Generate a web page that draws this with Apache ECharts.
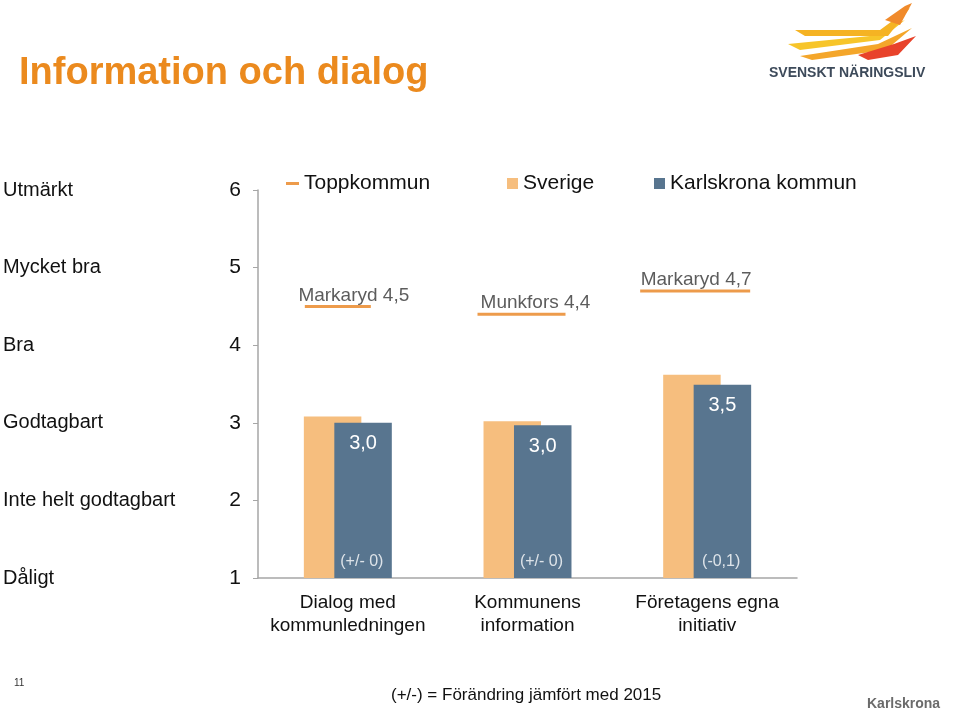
<!DOCTYPE html>
<html><head><meta charset="utf-8">
<script src="https://cdn.jsdelivr.net/npm/echarts@6/dist/echarts.min.js"></script>
<style>html,body{margin:0;padding:0;background:#fff}#c{width:960px;height:710px}</style>
</head><body><div id="c"></div>
<script>
const categories = ['Dialog med\nkommunledningen', 'Kommunens\ninformation', 'Företagens egna\ninitiativ'];
const sverige = [3.08, 3.02, 3.62];
const karlskrona = [3.0, 2.97, 3.49];
const changes = ['(+/- 0)', '(+/- 0)', '(-0,1)'];
const toppkommun = [4.5, 4.4, 4.7];
const toppNames = ['Markaryd', 'Munkfors', 'Markaryd'];
const levelNames = {1:'Dåligt',2:'Inte helt godtagbart',3:'Godtagbart',4:'Bra',5:'Mycket bra',6:'Utmärkt'};
const baseline = [1, 1, 1];

const fmt = v => v.toFixed(1).replace('.', ',');
const lineWidths = [66, 88, 110];
const lineShift = [-10, -6, -12];
const labelShift = [16, 14, 1];
const FONT = 'Liberation Sans, Arial, sans-serif';

const chart = echarts.init(document.getElementById('c'));
chart.setOption({
  animation: false,
  textStyle: {fontFamily: FONT},
  title: {
    text: 'Information och dialog', left: 14, top: 50,
    textStyle: {color: '#EB8A1E', fontSize: 38, fontWeight: 'bold', fontFamily: FONT}
  },
  legend: [
    {data: ['Toppkommun'], left: 281, top: 168, icon: 'rect', itemWidth: 13, itemHeight: 3, itemGap: 6,
     textStyle: {fontSize: 21, color: '#111'}},
    {data: ['Sverige'], left: 502, top: 168, icon: 'rect', itemWidth: 11, itemHeight: 11, itemGap: 5,
     textStyle: {fontSize: 21, color: '#111'}},
    {data: ['Karlskrona kommun'], left: 649, top: 168, icon: 'rect', itemWidth: 11, itemHeight: 11, itemGap: 5,
     textStyle: {fontSize: 21, color: '#111'}}
  ],
  grid: {left: 255, right: 163, top: 190, bottom: 132},
  xAxis: {
    type: 'category', data: categories,
    axisLine: {lineStyle: {color: '#a6a6a6', width: 1.5}},
    axisTick: {show: false},
    axisLabel: {interval: 0, fontSize: 19, color: '#111', lineHeight: 23, margin: 13}
  },
  yAxis: [
    {type: 'value', min: 1, max: 6, interval: 1, position: 'left',
     axisLine: {show: true, lineStyle: {color: '#a6a6a6', width: 1.5}},
     axisTick: {show: true, length: 5, lineStyle: {color: '#a6a6a6'}},
     splitLine: {show: false},
     axisLabel: {fontSize: 21, color: '#111', margin: 17}},
    {type: 'value', min: 1, max: 6, interval: 1, position: 'left', offset: 255,
     axisLine: {show: false}, axisTick: {show: false}, splitLine: {show: false},
     axisLabel: {fontSize: 20, color: '#111', margin: 0, align: 'left',
       formatter: v => levelNames[v] || ''}}
  ],
  series: [
    {name: 'Sverige', type: 'bar', data: sverige, barWidth: '32%', barGap: '-47%',
     itemStyle: {color: '#F6BE7E'}, z: 2},
    {name: 'Karlskrona kommun', type: 'bar', data: karlskrona, barWidth: '32%',
     itemStyle: {color: '#58758F'}, z: 3,
     label: {show: true, position: 'insideTop', distance: 11, color: '#fff', fontSize: 20,
       formatter: p => fmt(p.value)}},
    {name: 'changes', type: 'scatter', data: baseline, symbol: 'circle', symbolSize: 1, z: 5,
     itemStyle: {color: 'rgba(0,0,0,0)'}, silent: true,
     label: {show: true, position: 'top', distance: 0, offset: [14, -8], color: '#fff', fontSize: 16,
       formatter: p => changes[p.dataIndex]}},
    {name: 'Toppkommun', type: 'scatter', symbol: 'rect', z: 6,
     itemStyle: {color: '#E8821E'},
     data: toppkommun.map((v, i) => ({value: v, symbolSize: [lineWidths[i], 3], symbolOffset: [lineShift[i], 0],
       label: {offset: [labelShift[i], 0]}})),
     label: {show: true, position: 'top', distance: 0, color: '#333', fontSize: 19,
       formatter: p => toppNames[p.dataIndex] + ' ' + fmt(p.value)}}
  ],
  graphic: [
    {type: 'text', left: 14, top: 678, style: {text: '11', fontSize: 10, fill: '#333', fontFamily: FONT}},
    {type: 'text', left: 391, top: 687, style: {text: '(+/-) = Förändring jämfört med 2015', fontSize: 17, fill: '#111', fontFamily: FONT}},
    {type: 'text', left: 867, top: 697, style: {text: 'Karlskrona', fontSize: 14, fontWeight: 'bold', fill: '#6b6b6b', fontFamily: FONT}},
    {type: 'text', left: 769, top: 66, style: {text: 'SVENSKT NÄRINGSLIV', fontSize: 14, fontWeight: 'bold', fill: '#3d4a5a', fontFamily: 'Liberation Sans Narrow, Liberation Sans, sans-serif'}},
    {type: 'group', children: [
      {type: 'polygon', shape: {points: [[788,44],[870,36],[905,20],[880,40],[800,50]]}, style: {fill: '#F7C52A'}},
      {type: 'polygon', shape: {points: [[795,30],[880,30],[910,8],[888,36],[805,36]]}, style: {fill: '#F5B323'}},
      {type: 'polygon', shape: {points: [[800,56],[878,44],[912,28],[886,50],[812,60]]}, style: {fill: '#F4A62A'}},
      {type: 'polygon', shape: {points: [[858,55],[894,44],[916,36],[898,55],[868,60]]}, style: {fill: '#E8432B'}},
      {type: 'polygon', shape: {points: [[885,20],[905,6],[912,3],[900,25]]}, style: {fill: '#F08A2B'}}
    ]}
  ]
});
</script></body></html>
